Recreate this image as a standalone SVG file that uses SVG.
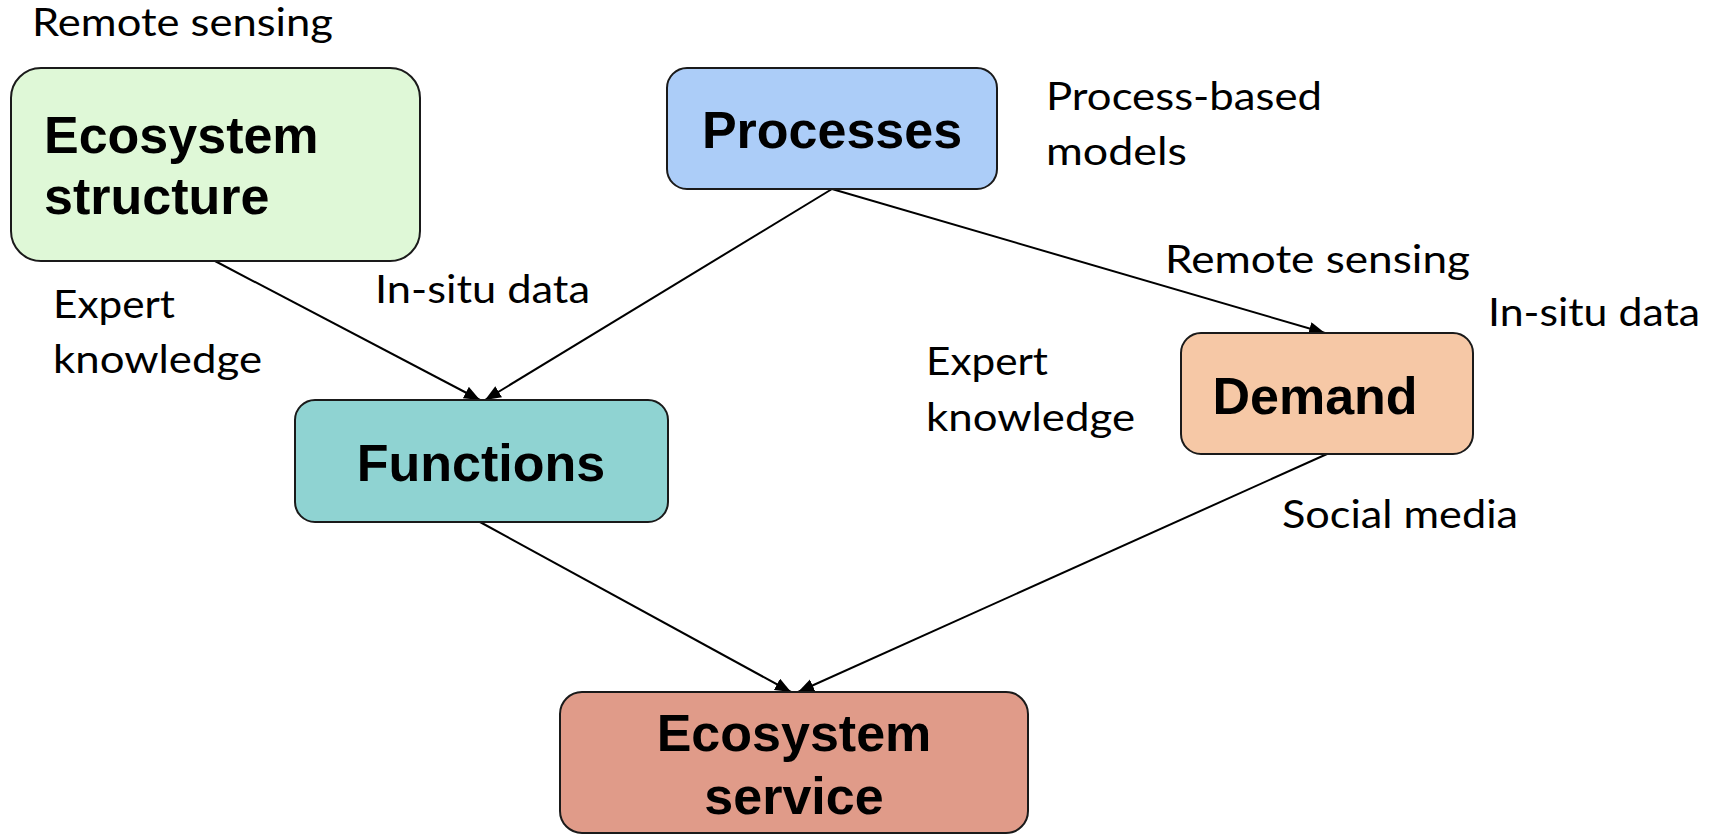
<svg xmlns="http://www.w3.org/2000/svg" width="1720" height="835" viewBox="0 0 1720 835">
  <style>
    .box { stroke: #1a1a1a; stroke-width: 2; }
    .title { font-family: "Liberation Sans", Arial, sans-serif; font-weight: bold; font-size: 52px; fill: #000; }
    .lbl { font-family: Lato, "Open Sans", sans-serif; font-size: 38px; fill: #000; }
    .edge { stroke: #000; stroke-width: 2; fill: none; marker-end: url(#arrow); }
  </style>
  <defs>
    <marker id="arrow" markerUnits="userSpaceOnUse" markerWidth="18" markerHeight="14" refX="16" refY="6.5" orient="auto">
      <path d="M0,0 L16,6.5 L0,13 z" fill="#000"/>
    </marker>
  </defs>
  <rect width="1720" height="835" fill="#fff"/>

  <g id="connectors">
    <line class="edge" x1="215" y1="261" x2="480" y2="400"/>
    <line class="edge" x1="832" y1="189" x2="485" y2="400"/>
    <line class="edge" x1="832" y1="189" x2="1325" y2="333"/>
    <line class="edge" x1="480" y1="522" x2="791" y2="692"/>
    <line class="edge" x1="1327" y1="454" x2="798" y2="692"/>
  </g>

  <g id="ecosystem-structure">
    <rect class="box" x="11" y="68" width="409" height="193" rx="30" fill="#dff8d7"/>
    <text class="title" x="44" y="153">Ecosystem</text>
    <text class="title" x="44" y="214">structure</text>
  </g>

  <g id="processes">
    <rect class="box" x="667" y="68" width="330" height="121" rx="20" fill="#accdf8"/>
    <text class="title" x="832" y="148" text-anchor="middle">Processes</text>
  </g>

  <g id="functions">
    <rect class="box" x="295" y="400" width="373" height="122" rx="20" fill="#8fd3d2"/>
    <text class="title" x="481" y="481" text-anchor="middle">Functions</text>
  </g>

  <g id="demand">
    <rect class="box" x="1181" y="333" width="292" height="121" rx="20" fill="#f6c8a6"/>
    <text class="title" x="1315" y="414" text-anchor="middle">Demand</text>
  </g>

  <g id="ecosystem-service">
    <rect class="box" x="560" y="692" width="468" height="141" rx="22" fill="#e09b89"/>
    <text class="title" x="794" y="751" text-anchor="middle">Ecosystem</text>
    <text class="title" x="794" y="814" text-anchor="middle">service</text>
  </g>

  <g id="labels">
    <text class="lbl" x="32" y="36" font-size="36" textLength="301" lengthAdjust="spacingAndGlyphs">Remote sensing</text>
    <text class="lbl" x="1046" y="110" textLength="276" lengthAdjust="spacingAndGlyphs">Process-based</text>
    <text class="lbl" x="1046" y="165" textLength="141" lengthAdjust="spacingAndGlyphs">models</text>
    <text class="lbl" x="53" y="318" textLength="122" lengthAdjust="spacingAndGlyphs">Expert</text>
    <text class="lbl" x="53" y="373" textLength="209" lengthAdjust="spacingAndGlyphs">knowledge</text>
    <text class="lbl" x="375" y="303" textLength="215" lengthAdjust="spacingAndGlyphs">In-situ data</text>
    <text class="lbl" x="1165" y="273" textLength="305" lengthAdjust="spacingAndGlyphs">Remote sensing</text>
    <text class="lbl" x="1488" y="326" textLength="212" lengthAdjust="spacingAndGlyphs">In-situ data</text>
    <text class="lbl" x="926" y="375" textLength="122" lengthAdjust="spacingAndGlyphs">Expert</text>
    <text class="lbl" x="926" y="431" textLength="209" lengthAdjust="spacingAndGlyphs">knowledge</text>
    <text class="lbl" x="1282" y="528" textLength="236" lengthAdjust="spacingAndGlyphs">Social media</text>
  </g>
</svg>
